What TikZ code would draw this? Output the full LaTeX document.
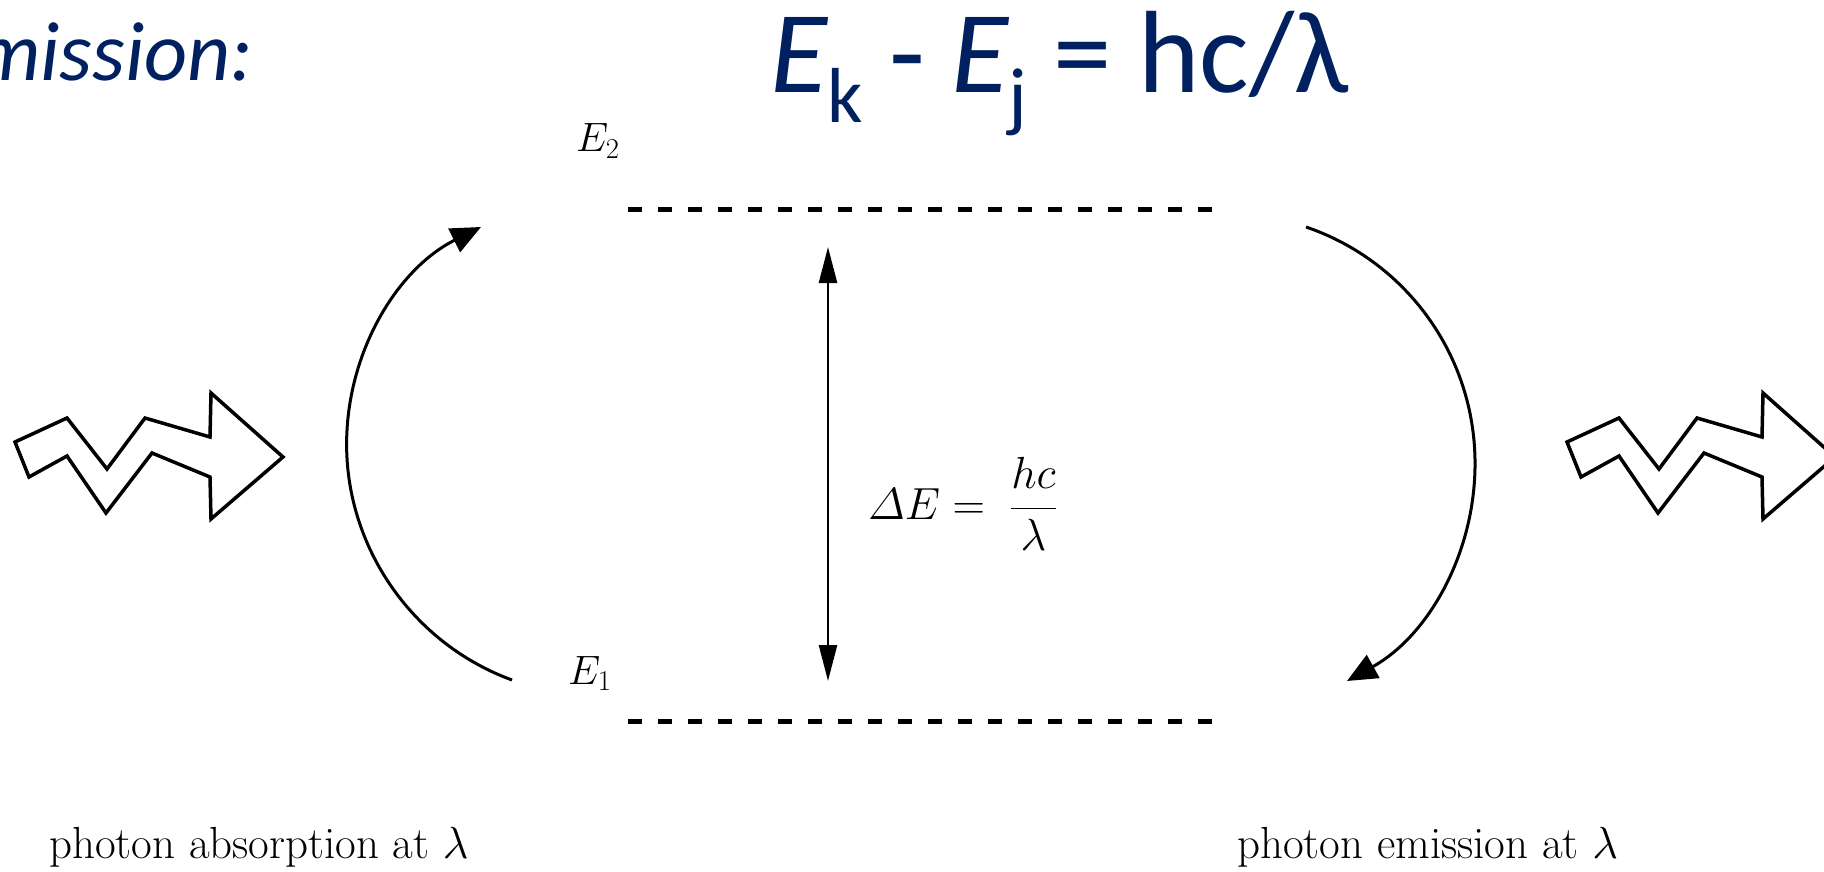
\RequirePackage{fix-cm}
\documentclass[tikz,border=0pt]{standalone}
\usepackage{amsmath}
\usepackage{fontspec}
\usepackage{xcolor}
\usepackage{tikz}
\usetikzlibrary{
  arrows.meta,
  calc,
  positioning
}
\newfontfamily\slidefont{Carlito}
\definecolor{SlideNavy}{RGB}{0,32,96}

\begin{document}
\begin{tikzpicture}[
  x=1pt, y=-1pt,
  >=Latex,
  level/.style={line width=5pt, dash pattern=on 14pt off 16pt},
  trans/.style={line width=3pt, -{Triangle[length=30pt, width=26pt]}},
  gap/.style={line width=2.5pt,
              {Triangle[length=36pt, width=18pt]}-{Triangle[length=36pt, width=18pt]}},
  photon/.style={line width=3.5pt, line join=miter},
  lbl/.style={inner sep=0pt, font=\fontsize{41}{48}\selectfont},
  caption/.style={inner sep=0pt, anchor=base west, font=\fontsize{45}{52}\selectfont},
  slide/.style={inner sep=0pt, anchor=base west, text=SlideNavy},
]
  \useasboundingbox (0,0) rectangle (1824,872);

  % slide heading
  \node[slide, font=\slidefont\itshape\fontsize{84}{96}\selectfont] (mode) at (-26,81) {mission:};
  \node[slide, font=\slidefont\fontsize{117}{130}\selectfont] (rule) at (770,93)
    {{\itshape E}\raisebox{-0.25em}{\fontsize{78}{78}\selectfont k} - {\itshape E}\raisebox{-0.25em}{\fontsize{78}{78}\selectfont j} = hc/λ};

  % energy levels
  \coordinate (hiL) at (628,209);
  \coordinate (hiR) at (1214,209);
  \coordinate (loL) at (628,721);
  \coordinate (loR) at (1214,721);
  \draw[level] (hiL) -- (hiR);
  \draw[level] (loL) -- (loR);
  \node[lbl, anchor=base west] (lvltwo) at (576,152) {$E_2$};
  \node[lbl, anchor=base west] (lvlone) at (568,684) {$E_1$};

  % gap
  \coordinate (gapTop) at (828,247);
  \coordinate (gapBot) at (828,681);
  \draw[gap] (gapTop) -- (gapBot);
  \node[lbl, anchor=west, font=\fontsize{45}{52}\selectfont] (gaplbl) at (868,504)
    {$\displaystyle \varDelta E=\;\frac{hc}{\lambda}$};

  % absorption / emission
  \coordinate (absFrom) at (512,680);
  \coordinate (absTo) at (481,227);
  \coordinate (emiFrom) at (1306,227);
  \coordinate (emiTo) at (1347,681);
  \draw[trans] (absFrom) .. controls (419,646) and (354,559.3) .. (347.2,461.3)
    .. controls (340.4,363.3) and (393.2,270.9) .. (absTo);
  \draw[trans] (emiFrom) .. controls (1399.3,258.8) and (1465.1,342.5) .. (1474,440.7)
    .. controls (1482.9,538.9) and (1433.2,633.1) .. (emiTo);

  % photons
  \foreach \dx in {0,1552} {
    \draw[photon, xshift=\dx] (15,442) -- (67,418) -- (107,469) -- (145,418) -- (210,437)
      -- (211,393) -- (283,457) -- (211,519) -- (210,477) -- (152,453) -- (106,513)
      -- (67,456) -- (29,477) -- cycle;
  }
  \node[caption] (abs) at (49,858) {photon absorption at $\lambda$};
  \node[caption] (emi) at (1237,858) {photon emission at $\lambda$};
\end{tikzpicture}
\end{document}
